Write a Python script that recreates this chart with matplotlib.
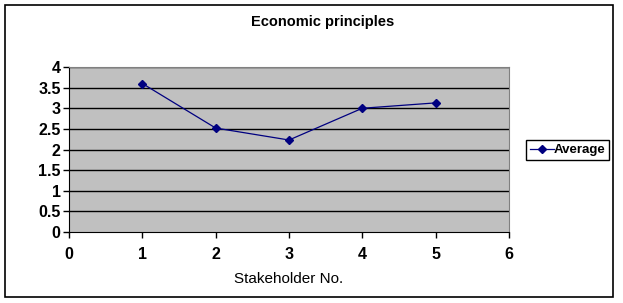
import matplotlib
matplotlib.use("Agg")
import matplotlib.pyplot as plt
from matplotlib.patches import Rectangle

plt.rcParams['font.family'] = ['Liberation Sans', 'DejaVu Sans']

# data
stakeholder = [1, 2, 3, 4, 5]
average = [3.6, 2.52, 2.23, 3.0, 3.13]
xticks = [0, 1, 2, 3, 4, 5, 6]
yticks = [0, 0.5, 1, 1.5, 2, 2.5, 3, 3.5, 4]
ytick_labels = ['0', '0.5', '1', '1.5', '2', '2.5', '3', '3.5', '4']

W, H = 623, 303
fig = plt.figure(figsize=(W / 100, H / 100), dpi=100)
fig.patch.set_facecolor('white')

# outer chart border
fig.patches.append(Rectangle((5 / W, 1 - 297 / H), 608 / W, 292 / H,
                             transform=fig.transFigure, fill=False,
                             edgecolor='black', linewidth=1.2))

ax = fig.add_axes([69 / W, 1 - 232 / H, 440 / W, 165 / H])
ax.set_facecolor('#C0C0C0')

for y in yticks[1:]:
    ax.axhline(y, color='black', linewidth=1, zorder=1)

ax.plot(stakeholder, average, color='#000080', linewidth=0.9,
        marker='D', markersize=4, label='Average', zorder=3)

ax.set_xlim(0, 6)
ax.set_ylim(0, 4)
ax.set_xticks(xticks)
ax.set_yticks(yticks)
ax.set_yticklabels(ytick_labels)
ax.tick_params(axis='both', direction='out', length=4, width=1,
               labelsize=11.5, pad=2)
ax.tick_params(axis='x', pad=7)
for lab in ax.get_xticklabels() + ax.get_yticklabels():
    lab.set_fontweight('bold')

ax.spines['top'].set_color('#808080')
ax.spines['right'].set_color('#808080')
ax.spines['left'].set_color('black')
ax.spines['bottom'].set_color('black')

ax.set_xlabel('Stakeholder No.', fontsize=11, labelpad=7)

fig.text(323 / W, 1 - 22 / H, 'Economic principles', ha='center',
         va='center', fontsize=10.5, fontweight='bold')

leg = ax.legend(loc='center left', bbox_to_anchor=(526 / W, 1 - 150 / H),
                bbox_transform=fig.transFigure, frameon=True,
                fancybox=False, edgecolor='black', framealpha=1,
                prop={'weight': 'bold', 'size': 9.5}, handlelength=1.8,
                handletextpad=0.0, borderpad=0.3, borderaxespad=0)
leg.get_frame().set_linewidth(1)

fig.savefig('out.png', dpi=100)
